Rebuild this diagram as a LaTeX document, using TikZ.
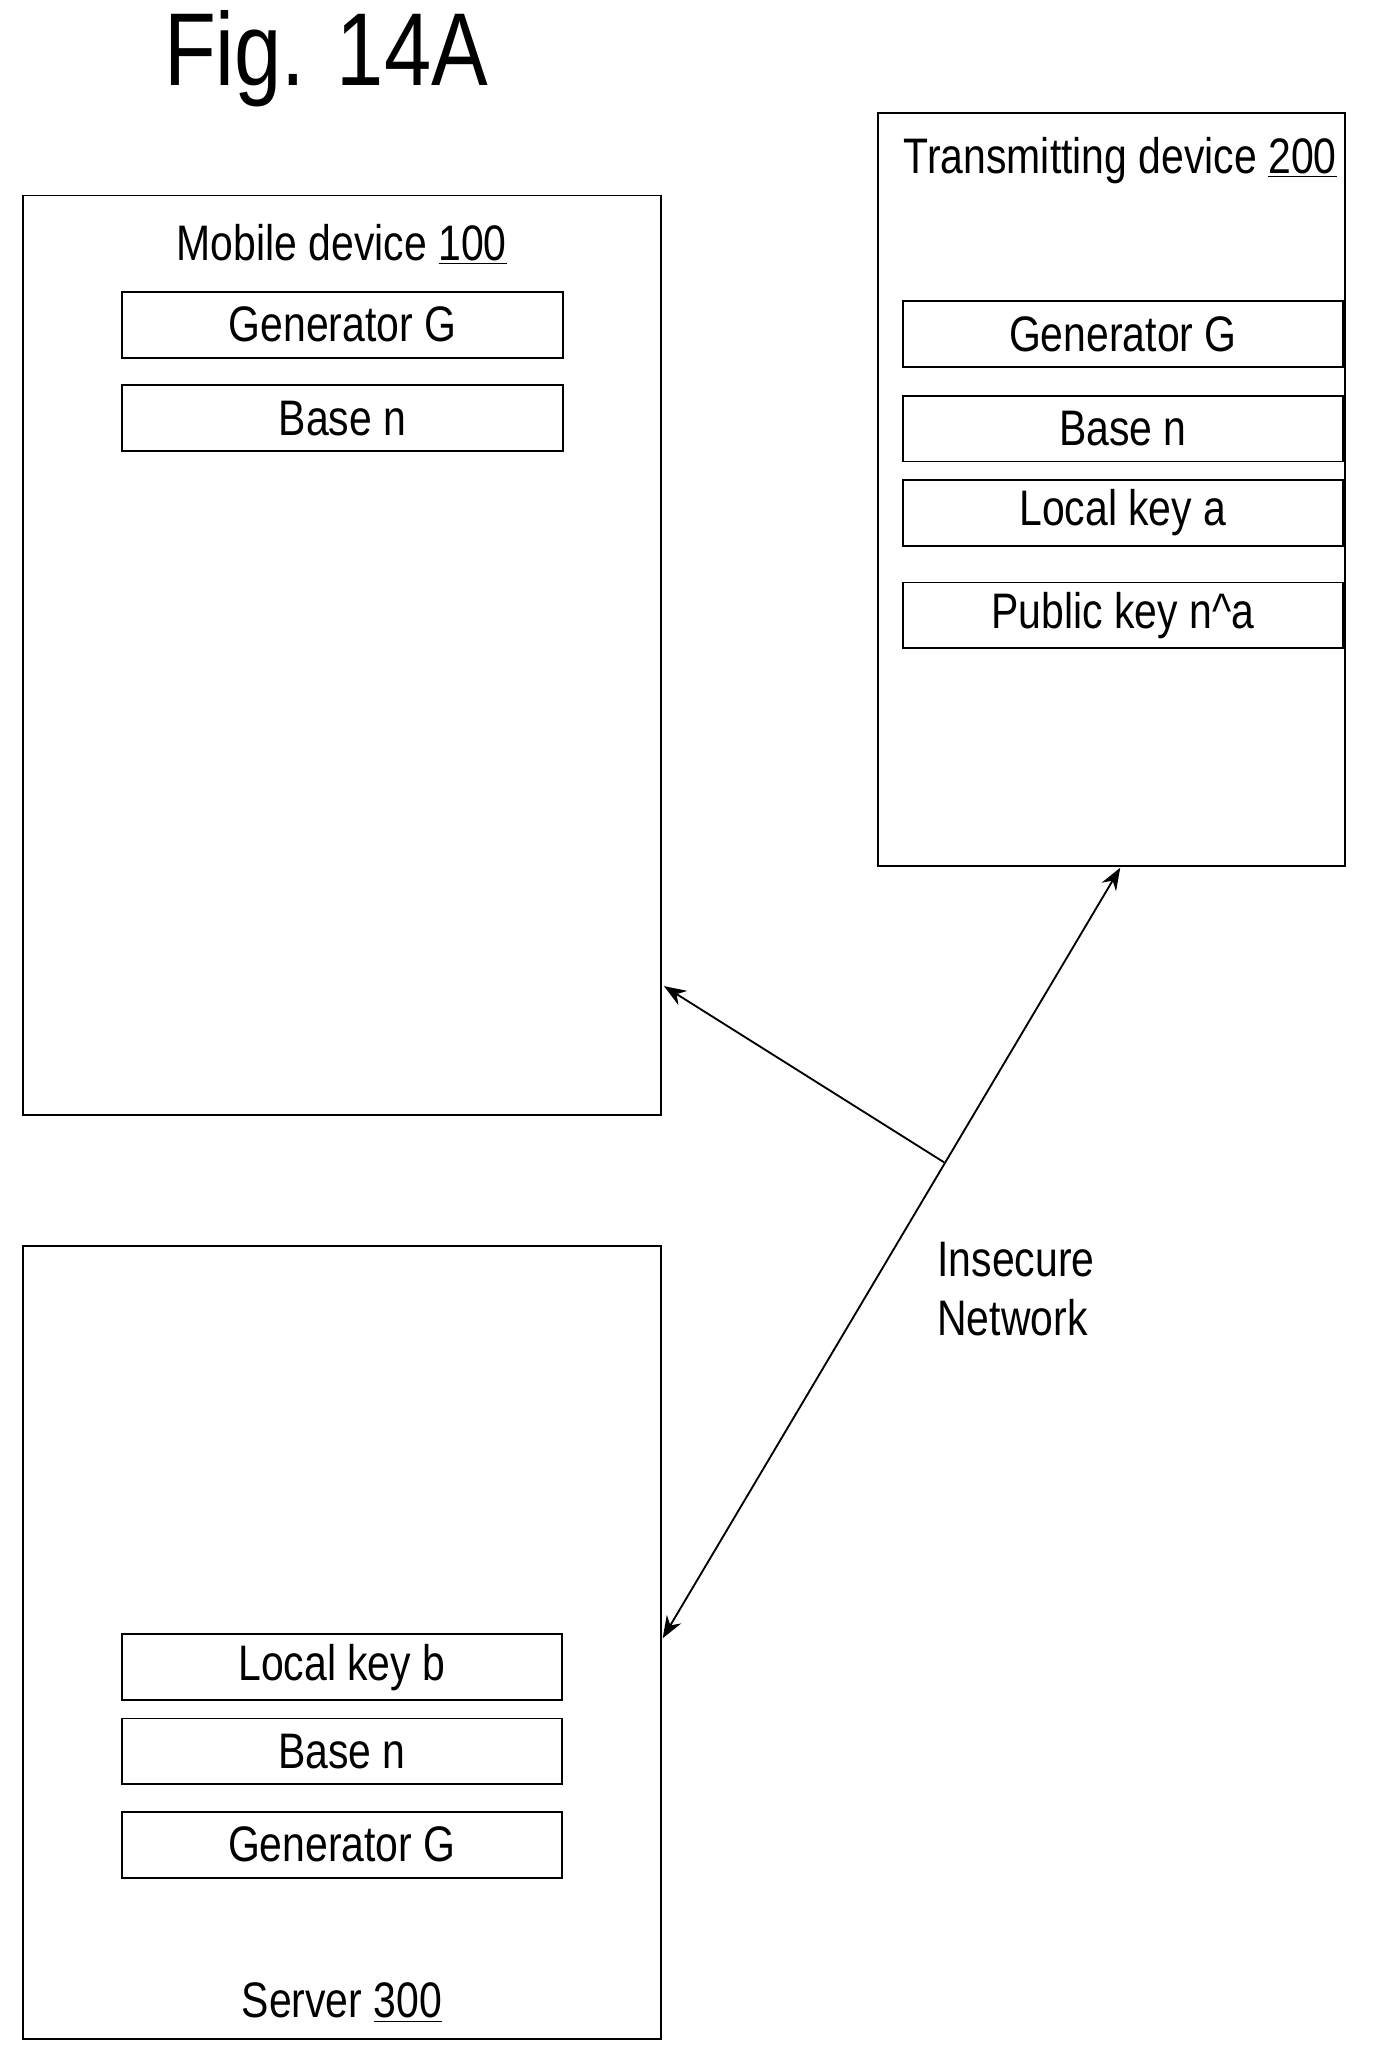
\documentclass[tikz,border=0pt]{standalone}
\usepackage{fontspec}
\setmainfont{Liberation Sans}[FakeStretch=0.82]
\usetikzlibrary{arrows.meta}
\begin{document}
\begin{tikzpicture}[x=0.025cm,y=-0.025cm,
  txt/.style={font=\fontsize{27}{32}\selectfont},
  device/.style={draw,line width=1pt,anchor=north west,inner sep=0pt},
  field/.style={draw,line width=1pt,minimum width=335*0.025cm,minimum height=50*0.025cm,inner sep=0pt,txt},
  link/.style={line width=1pt,-{Stealth[length=12pt,width=9pt]}}]
			% frame
			\useasboundingbox (0,0) rectangle (1058,1566);
			\node[font=\fontsize{56}{66}\selectfont] (Title) at (248,45) {Fig. 14A};
			
			% mobile device
			\node[device,minimum width=485*0.025cm,minimum height=699*0.025cm] (Mobile) at (17,148) {};
			\node[txt] (MobileLabel) at (260,186) {Mobile device \underline{100}};
			\node[field] (MobGen) at (260.5,247) {Generator G};
			\node[field] (MobBase) at (260.5,318) {Base n};
			
			% transmitting device
			\node[device,minimum width=355*0.025cm,minimum height=573*0.025cm] (Trans) at (667,85) {};
			\node[txt] (TransLabel) at (852,122) {Transmitting device \underline{200}};
			\node[field] (TrGen) at (854,254) {Generator G};
			\node[field] (TrBase) at (854,326) {Base n};
			\node[field] (TrLocal) at (854,390) {Local key a};
			\node[field] (TrPublic) at (854,468) {Public key n\^{}a};
			
			% server
			\node[device,minimum width=485*0.025cm,minimum height=603*0.025cm] (Server) at (17,947) {};
			\node[field] (SrvLocal) at (260,1268) {Local key b};
			\node[field] (SrvBase) at (260,1332) {Base n};
			\node[field] (SrvGen) at (260,1403) {Generator G};
			\node[txt] (ServerLabel) at (260,1523) {Server \underline{300}};
			
			% network
			\coordinate (TrPort) at (852,660);
			\coordinate (SrvPort) at (504,1246);
			\coordinate (MobPort) at (505,750);
			\coordinate (Hub) at (718,884);
			\draw[link,{Stealth[length=12pt,width=9pt]}-{Stealth[length=12pt,width=9pt]}] (TrPort) -- (SrvPort);
			\draw[link] (Hub) -- (MobPort);
			\node[txt,anchor=north west,align=left] (Net) at (708,940) {Insecure\\Network};
			
			\end{tikzpicture}
\end{document}
